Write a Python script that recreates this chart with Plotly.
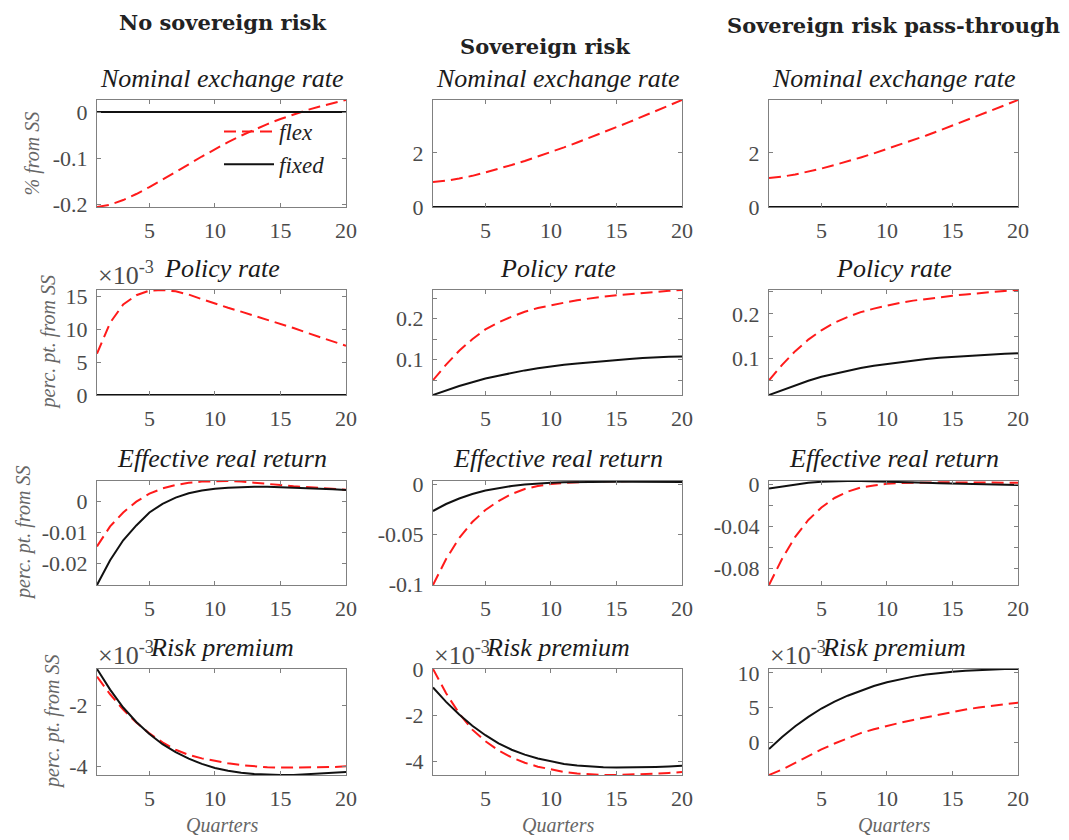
import plotly.graph_objects as go

# ---------------- data ----------------
quarters = list(range(1, 21))

col_titles = ["No sovereign risk", "Sovereign risk", "Sovereign risk pass-through"]
row_titles = ["Nominal exchange rate", "Policy rate", "Effective real return", "Risk premium"]
y_labels = ["% from SS", "perc. pt. from SS", "perc. pt. from SS", "perc. pt. from SS"]
x_label = "Quarters"
legend_names = ["flex", "fixed"]
exponent_label = "×10<sup>-3</sup>"

# Row 1: Nominal exchange rate (% from SS)
ner_flex_nosr = [-0.205, -0.200, -0.190, -0.177, -0.162, -0.146, -0.130, -0.113, -0.096, -0.080,
                 -0.065, -0.051, -0.038, -0.026, -0.015, -0.005, 0.004, 0.012, 0.019, 0.026]
ner_fixed_nosr = [0.0, 0.0, 0.0, 0.0, 0.0, 0.0, 0.0, 0.0, 0.0, 0.0,
                  0.0, 0.0, 0.0, 0.0, 0.0, 0.0, 0.0, 0.0, 0.0, 0.0]
ner_flex_sr = [0.92, 0.97, 1.05, 1.15, 1.28, 1.41, 1.55, 1.70, 1.86, 2.03,
               2.20, 2.38, 2.56, 2.75, 2.95, 3.14, 3.34, 3.54, 3.75, 3.95]
ner_fixed_sr = [0.0, 0.0, 0.0, 0.0, 0.0, 0.0, 0.0, 0.0, 0.0, 0.0,
                0.0, 0.0, 0.0, 0.0, 0.0, 0.0, 0.0, 0.0, 0.0, 0.0]
ner_flex_pt = [1.07, 1.12, 1.20, 1.30, 1.42, 1.55, 1.68, 1.83, 1.98, 2.14,
               2.30, 2.47, 2.64, 2.82, 3.00, 3.19, 3.38, 3.57, 3.76, 3.95]
ner_fixed_pt = [0.0, 0.0, 0.0, 0.0, 0.0, 0.0, 0.0, 0.0, 0.0, 0.0,
                0.0, 0.0, 0.0, 0.0, 0.0, 0.0, 0.0, 0.0, 0.0, 0.0]

# Row 2: Policy rate (perc. pt. from SS); no-sovereign-risk panel in units of 1e-3
pr_flex_nosr = [6.3, 11.0, 13.8, 15.2, 15.9, 16.0, 15.8, 15.3, 14.6, 13.9,
                13.3, 12.7, 12.1, 11.5, 10.9, 10.2, 9.5, 8.8, 8.1, 7.5]
pr_fixed_nosr = [0.0, 0.0, 0.0, 0.0, 0.0, 0.0, 0.0, 0.0, 0.0, 0.0,
                 0.0, 0.0, 0.0, 0.0, 0.0, 0.0, 0.0, 0.0, 0.0, 0.0]
pr_flex_sr = [0.050, 0.088, 0.122, 0.150, 0.174, 0.191, 0.205, 0.217, 0.226, 0.233,
              0.239, 0.245, 0.250, 0.254, 0.257, 0.260, 0.263, 0.266, 0.268, 0.270]
pr_fixed_sr = [0.014, 0.025, 0.036, 0.045, 0.054, 0.061, 0.068, 0.074, 0.079, 0.084,
               0.088, 0.091, 0.094, 0.097, 0.100, 0.102, 0.104, 0.106, 0.107, 0.108]
pr_flex_pt = [0.050, 0.085, 0.116, 0.142, 0.163, 0.180, 0.193, 0.204, 0.212, 0.219,
              0.225, 0.230, 0.234, 0.238, 0.241, 0.244, 0.247, 0.250, 0.252, 0.254]
pr_fixed_pt = [0.017, 0.028, 0.039, 0.049, 0.058, 0.065, 0.072, 0.078, 0.083, 0.087,
               0.091, 0.095, 0.098, 0.101, 0.103, 0.105, 0.107, 0.109, 0.110, 0.111]

# Row 3: Effective real return (perc. pt. from SS)
err_flex_nosr = [-0.0145, -0.0080, -0.0035, 0.0000, 0.0026, 0.0043, 0.0054, 0.0061, 0.0065, 0.0067,
                 0.0067, 0.0065, 0.0062, 0.0058, 0.0054, 0.0050, 0.0047, 0.0044, 0.0041, 0.0039]
err_fixed_nosr = [-0.0270, -0.0190, -0.0125, -0.0077, -0.0035, -0.0007, 0.0013, 0.0027, 0.0036, 0.0042,
                  0.0045, 0.0047, 0.0048, 0.0048, 0.0047, 0.0046, 0.0044, 0.0042, 0.0040, 0.0038]
err_flex_sr = [-0.101, -0.075, -0.054, -0.038, -0.026, -0.017, -0.010, -0.005, -0.002, 0.000,
               0.001, 0.002, 0.0025, 0.0028, 0.003, 0.003, 0.003, 0.003, 0.003, 0.0028]
err_fixed_sr = [-0.027, -0.020, -0.0145, -0.010, -0.0065, -0.004, -0.002, -0.0005, 0.0005, 0.0012,
                0.0017, 0.0020, 0.0022, 0.0023, 0.0023, 0.0023, 0.0022, 0.0021, 0.0020, 0.0019]
err_flex_pt = [-0.096, -0.071, -0.050, -0.034, -0.022, -0.013, -0.007, -0.003, -0.001, 0.0005,
               0.0012, 0.0016, 0.0018, 0.0019, 0.0019, 0.0019, 0.0018, 0.0017, 0.0016, 0.0015]
err_fixed_pt = [-0.0040, -0.0020, 0.0000, 0.0015, 0.0025, 0.0030, 0.0032, 0.0032, 0.0030, 0.0027,
                0.0023, 0.0019, 0.0015, 0.0011, 0.0007, 0.0004, 0.0001, -0.0002, -0.0004, -0.0006]

# Row 4: Risk premium (perc. pt. from SS, units of 1e-3)
rp_flex_nosr = [-1.08, -1.65, -2.15, -2.57, -2.92, -3.21, -3.45, -3.62, -3.73, -3.82,
                -3.89, -3.95, -3.99, -4.02, -4.03, -4.03, -4.03, -4.02, -4.01, -3.99]
rp_fixed_nosr = [-0.83, -1.50, -2.08, -2.55, -2.94, -3.27, -3.53, -3.74, -3.91, -4.04,
                 -4.13, -4.20, -4.24, -4.26, -4.27, -4.27, -4.25, -4.23, -4.20, -4.17]
rp_flex_sr = [0.0, -1.05, -1.92, -2.62, -3.12, -3.52, -3.82, -4.05, -4.22, -4.35,
              -4.45, -4.52, -4.56, -4.58, -4.58, -4.57, -4.55, -4.52, -4.49, -4.45]
rp_fixed_sr = [-0.80, -1.42, -1.97, -2.45, -2.86, -3.21, -3.49, -3.70, -3.87, -4.00,
               -4.10, -4.17, -4.22, -4.25, -4.26, -4.26, -4.25, -4.23, -4.21, -4.18]
rp_flex_pt = [-4.74, -3.95, -3.00, -2.00, -1.05, -0.20, 0.60, 1.30, 1.85, 2.35,
              2.80, 3.20, 3.60, 4.00, 4.35, 4.70, 5.00, 5.25, 5.50, 5.70]
rp_fixed_pt = [-1.00, 0.75, 2.30, 3.65, 4.85, 5.85, 6.70, 7.45, 8.10, 8.65,
               9.10, 9.45, 9.75, 10.00, 10.15, 10.30, 10.40, 10.50, 10.55, 10.55]

flex_series = [ner_flex_nosr, ner_flex_sr, ner_flex_pt,
               pr_flex_nosr, pr_flex_sr, pr_flex_pt,
               err_flex_nosr, err_flex_sr, err_flex_pt,
               rp_flex_nosr, rp_flex_sr, rp_flex_pt]
fixed_series = [ner_fixed_nosr, ner_fixed_sr, ner_fixed_pt,
                pr_fixed_nosr, pr_fixed_sr, pr_fixed_pt,
                err_fixed_nosr, err_fixed_sr, err_fixed_pt,
                rp_fixed_nosr, rp_fixed_sr, rp_fixed_pt]

x_ticks = [5, 10, 15, 20]
y_ticks = [[-0.2, -0.1, 0], [0, 2], [0, 2],
           [0, 5, 10, 15], [0.1, 0.2], [0.1, 0.2],
           [-0.02, -0.01, 0], [-0.1, -0.05, 0], [-0.08, -0.04, 0],
           [-4, -2], [-4, -2, 0], [0, 5, 10]]
y_ticktext = [["-0.2", "-0.1", "0"], ["0", "2"], ["0", "2"],
              ["0", "5", "10", "15"], ["0.1", "0.2"], ["0.1", "0.2"],
              ["-0.02", "-0.01", "0"], ["-0.1", "-0.05", "0"], ["-0.08", "-0.04", "0"],
              ["-4", "-2"], ["-4", "-2", "0"], ["0", "5", "10"]]
y_minor = [[], [], [],
           [], [0.05, 0.15, 0.25], [0.05, 0.15, 0.25],
           [], [], [-0.06, -0.02],
           [], [], []]
exponent_panels = [3, 9, 10, 11]

# ---------------- layout geometry ----------------
W, H = 1069, 840
col_px = [(97, 346), (433, 682), (769, 1018)]
row_px = [(100, 207), (290, 395), (481, 585), (669, 775)]

SERIF = "Liberation Serif"
TICK_FONT = dict(family=SERIF, size=22, color="#4a4a4a")
RED = "#ff1a1a"
BLACK = "#111111"
AXCOL = "#808080"

fig = go.Figure()
layout = dict(
    width=W, height=H, autosize=False,
    margin=dict(l=0, r=0, t=0, b=0, pad=0, autoexpand=False),
    paper_bgcolor="white", plot_bgcolor="white",
    showlegend=True,
    legend=dict(x=219 / W, y=1 - 110 / H, xanchor="left", yanchor="top",
                bgcolor="rgba(0,0,0,0)", borderwidth=0, itemwidth=50,
                font=dict(family=SERIF, size=23, color="#222222"),
                tracegroupgap=0),
)

annotations = []

for k in range(12):
    r, c = divmod(k, 3)
    ax = "" if k == 0 else str(k + 1)
    x0, x1 = col_px[c]
    y0, y1 = row_px[r]
    allv = flex_series[k] + fixed_series[k]
    ymin, ymax = min(allv), max(allv)

    fig.add_trace(go.Scatter(
        x=quarters, y=flex_series[k], mode="lines",
        line=dict(color=RED, width=2, dash="12px,6px"),
        name="<i>" + legend_names[0] + "</i>", showlegend=(k == 0),
        xaxis="x" + ax, yaxis="y" + ax, hoverinfo="skip"))
    fig.add_trace(go.Scatter(
        x=quarters, y=fixed_series[k], mode="lines",
        line=dict(color=BLACK, width=2),
        name="<i>" + legend_names[1] + "</i>", showlegend=(k == 0),
        xaxis="x" + ax, yaxis="y" + ax, hoverinfo="skip"))

    common = dict(showline=True, linecolor=AXCOL, linewidth=1, mirror="ticks",
                  ticks="inside", ticklen=4, tickwidth=1, tickcolor=AXCOL,
                  showgrid=False, zeroline=False, tickfont=TICK_FONT,
                  ticklabelstandoff=4, automargin=False)
    layout["xaxis" + ax] = dict(common, domain=[x0 / W, x1 / W], range=[1, 20],
                                tickvals=x_ticks, ticktext=[str(t) for t in x_ticks],
                                anchor="y" + ax)
    yax = dict(common, domain=[1 - y1 / H, 1 - y0 / H], range=[ymin, ymax],
               tickvals=y_ticks[k], ticktext=y_ticktext[k], anchor="x" + ax)
    if y_minor[k]:
        yax["minor"] = dict(tickvals=y_minor[k], ticks="inside", ticklen=4,
                            tickcolor=AXCOL, showgrid=False)
    layout["yaxis" + ax] = yax

    # exponent label
    if k in exponent_panels:
        annotations.append(dict(
            x=(x0 - 1) / W, y=1 - (y0 - 16) / H, xref="paper", yref="paper",
            xanchor="left", yanchor="middle", showarrow=False,
            text=exponent_label, font=dict(family=SERIF, size=26, color="#4a4a4a")))

    # panel title
    annotations.append(dict(
        x=(x0 + x1) / 2 / W, y=1 - (y0 - 22) / H, xref="paper", yref="paper",
        xanchor="center", yanchor="middle", showarrow=False,
        text="<i>" + row_titles[r] + "</i>",
        font=dict(family=SERIF, size=26, color="#1a1a1a")))

    # y label (first column)
    if c == 0:
        ylab_x = [32, 48, 23, 52][r]
        annotations.append(dict(
            x=ylab_x / W, y=1 - (y0 + y1) / 2 / H, xref="paper", yref="paper",
            xanchor="center", yanchor="middle", showarrow=False, textangle=-90,
            text="<i>" + y_labels[r] + "</i>",
            font=dict(family=SERIF, size=20, color="#666666")))

    # x label (last row)
    if r == 3:
        annotations.append(dict(
            x=(x0 + x1) / 2 / W, y=1 - 825 / H, xref="paper", yref="paper",
            xanchor="center", yanchor="middle", showarrow=False,
            text="<i>" + x_label + "</i>",
            font=dict(family=SERIF, size=20, color="#666666")))

# column super-titles
col_title_pos = [(222, 22), (545, 46), (893, 25)]
for c in range(3):
    cx, cy = col_title_pos[c]
    annotations.append(dict(
        x=cx / W, y=1 - cy / H, xref="paper", yref="paper",
        xanchor="center", yanchor="middle", showarrow=False,
        text="<b>" + col_titles[c] + "</b>",
        font=dict(family="DejaVu Serif", size=21, color="#222222")))

layout["annotations"] = annotations
fig.update_layout(**layout)
fig.write_html("out.html")
